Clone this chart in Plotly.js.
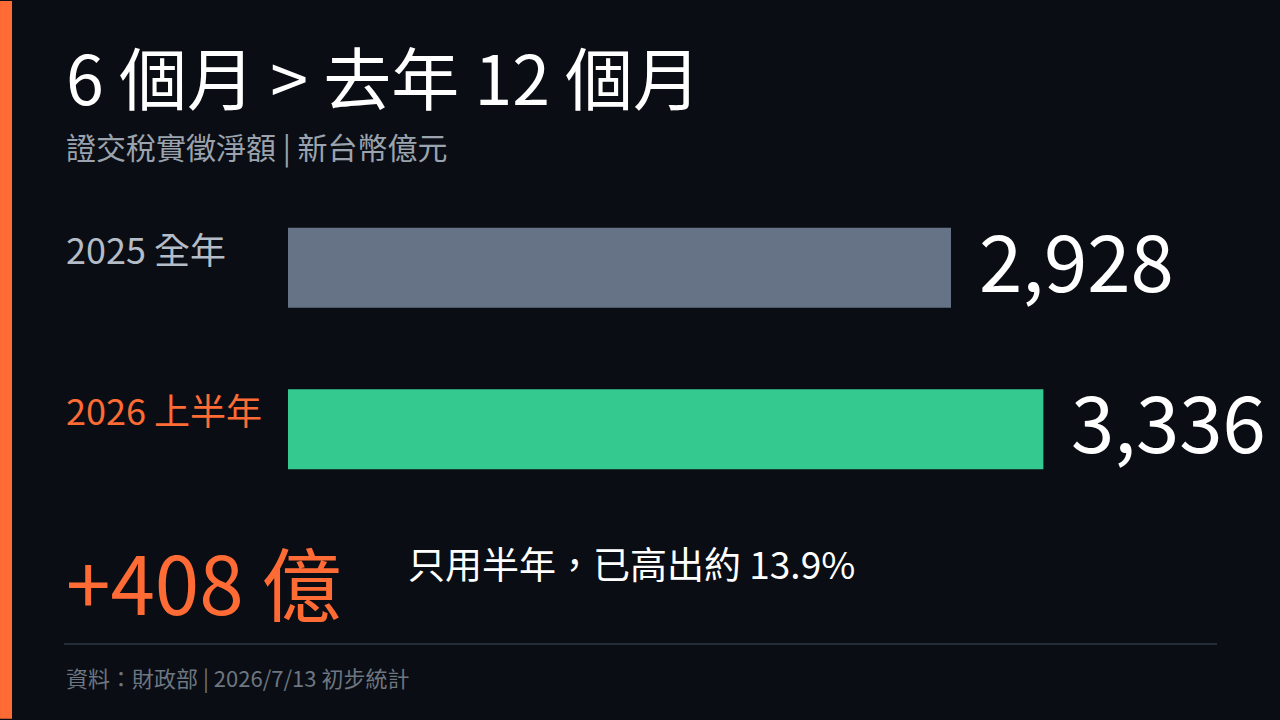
<!DOCTYPE html>
<html>
<head>
<meta charset="utf-8">
<script src="https://cdn.plot.ly/plotly-3.0.1.min.js"></script>
<style>
html,body{margin:0;padding:0;background:#0a0d13;}
#chart{width:1280px;height:720px;}
</style>
</head>
<body>
<div id="chart"></div>
<script>
const categories = ['2025 全年', '2026 上半年'];
const values = [2928, 3336];
const valueLabels = ['2,928', '3,336'];
const barColors = ['#667386', '#34c98f'];
const labelColors = ['#b4bcc7', '#ff6b35'];

const titleText = '6 個月 > 去年 12 個月';
const subtitleText = '證交稅實徵淨額 | 新台幣億元';
const diffText = '+408 億';
const noteText = '只用半年，已高出約 13.9%';
const sourceText = '資料：財政部 | 2026/7/13 初步統計';

const FONT = '"Noto Sans CJK TC", "Noto Sans", sans-serif';

const trace = {
  type: 'bar',
  orientation: 'h',
  x: values,
  y: categories,
  marker: {color: barColors},
  width: 0.494,
  hoverinfo: 'skip'
};

const annotations = [];
categories.forEach((c, i) => {
  annotations.push({
    xref: 'x', yref: 'y', x: values[i], y: c,
    text: valueLabels[i], showarrow: false,
    xanchor: 'left', yanchor: 'middle', xshift: 26, yshift: 10,
    font: {family: FONT, size: 78, color: '#ffffff'}
  });
  annotations.push({
    xref: 'paper', yref: 'y', x: -0.226, y: c,
    text: c, showarrow: false,
    xanchor: 'left', yanchor: 'middle', yshift: 20,
    font: {family: FONT, size: 36, color: labelColors[i]}
  });
});

annotations.push(
  {xref: 'paper', yref: 'paper', x: -0.226, y: 1.0, yanchor: 'bottom', xanchor: 'left',
   yshift: 60, showarrow: false, text: titleText,
   font: {family: FONT, size: 68, color: '#ffffff'}},
  {xref: 'paper', yref: 'paper', x: -0.226, y: 1.0, yanchor: 'bottom', xanchor: 'left',
   yshift: 17, showarrow: false, text: subtitleText,
   font: {family: FONT, size: 30, color: '#9aa3ae'}},
  {xref: 'paper', yref: 'paper', x: -0.226, y: 0, yanchor: 'top', xanchor: 'left',
   yshift: -10, showarrow: false, text: diffText,
   font: {family: FONT, size: 80, color: '#ff6b35'}},
  {xref: 'paper', yref: 'paper', x: 0.1185, y: 0, yanchor: 'top', xanchor: 'left',
   yshift: -24, showarrow: false, text: noteText,
   font: {family: FONT, size: 37, color: '#ffffff'}},
  {xref: 'paper', yref: 'paper', x: -0.226, y: 0, yanchor: 'top', xanchor: 'left',
   yshift: -149, showarrow: false, text: sourceText,
   font: {family: FONT, size: 22, color: '#6d7681'}}
);

const layout = {
  width: 1280, height: 720,
  paper_bgcolor: '#0a0d13',
  plot_bgcolor: 'rgba(0,0,0,0)',
  margin: {l: 288, r: 0, t: 186.5, b: 209.5, pad: 0},
  showlegend: false,
  xaxis: {range: [0, 4381], visible: false, fixedrange: true},
  yaxis: {type: 'category', categoryorder: 'array', categoryarray: categories,
          autorange: 'reversed', range: [1.5, -0.5], visible: false, fixedrange: true},
  annotations: annotations,
  shapes: [
    {type: 'rect', xref: 'paper', yref: 'paper', x0: -0.2903, x1: -0.2782, y0: -0.6466, y1: 1.5756,
     fillcolor: '#ff6b35', line: {width: 0}, layer: 'above'},
    {type: 'line', xref: 'paper', yref: 'paper', x0: -0.2258, x1: 0.9365, y0: -0.4145, y1: -0.4145,
     line: {color: '#252d37', width: 2}}
  ]
};

Plotly.newPlot('chart', [trace], layout, {displayModeBar: false, staticPlot: true});
</script>
</body>
</html>
